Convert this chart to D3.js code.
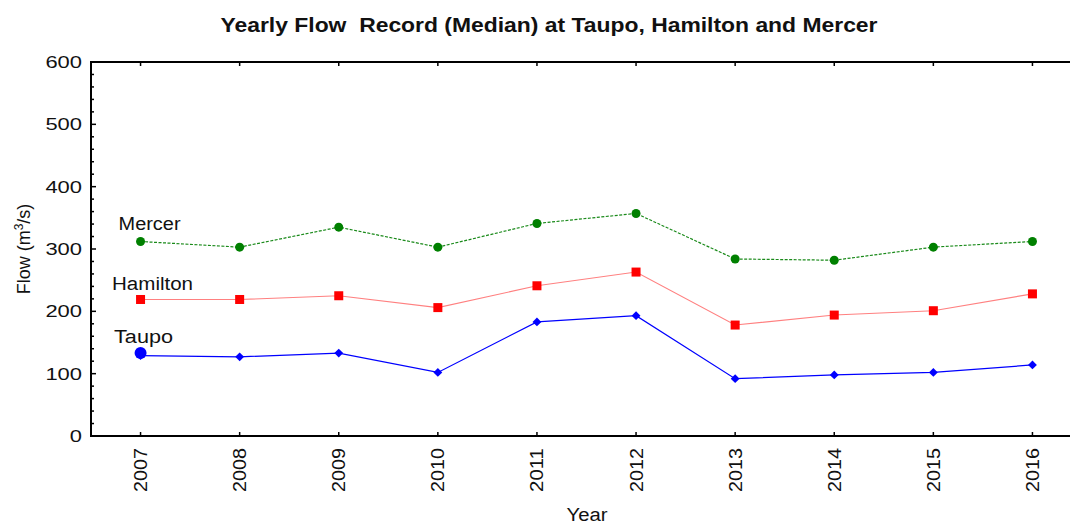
<!DOCTYPE html>
<html>
<head>
<meta charset="utf-8">
<script src="https://cdn.jsdelivr.net/npm/d3@7"></script>
<style>
  body { margin: 0; background: #fff; }
  svg { font-family: "Liberation Sans", Arial, sans-serif; }
  text { white-space: pre; }
</style>
</head>
<body>
<svg id="chart" width="1070" height="525"></svg>
<script>
// data
const years = [2007, 2008, 2009, 2010, 2011, 2012, 2013, 2014, 2015, 2016];
const taupo = [129, 127, 133, 102, 183, 193, 92, 98, 102, 114];
const hamilton = [219, 219, 225, 206, 241, 263, 178, 194, 201, 228];
const mercer = [312, 303, 335, 303, 341, 357, 284, 282, 303, 312];
const yTicks = [0, 100, 200, 300, 400, 500, 600];

const svg = d3.select("#chart");

const x = d3.scaleLinear().domain([2006.5, 2016.5]).range([91, 1082]);
const y = d3.scaleLinear().domain([0, 600]).range([436, 62]);

// frame (right side runs off the picture)
svg.append("line").attr("x1", 91).attr("x2", 1070).attr("y1", 62).attr("y2", 62)
  .attr("stroke", "#000").attr("stroke-width", 2);
svg.append("line").attr("x1", 91).attr("x2", 1070).attr("y1", 436).attr("y2", 436)
  .attr("stroke", "#000").attr("stroke-width", 2);
svg.append("line").attr("x1", 91).attr("x2", 91).attr("y1", 61).attr("y2", 437)
  .attr("stroke", "#000").attr("stroke-width", 2);

// y ticks (major + minor, pointing inward)
const minor = d3.range(0, 601, 20);
svg.append("g").selectAll("line").data(minor).join("line")
  .attr("x1", 91).attr("x2", d => (d % 100 === 0 ? 96 : 94))
  .attr("y1", d => y(d)).attr("y2", d => y(d))
  .attr("stroke", "#000").attr("stroke-width", 1.5);

svg.append("g").selectAll("text").data(yTicks).join("text")
  .attr("x", 82).attr("y", d => y(d) + 6)
  .attr("text-anchor", "end").attr("font-size", 17).attr("fill", "#111")
  .attr("textLength", d => String(d).length * 12.2).attr("lengthAdjust", "spacingAndGlyphs")
  .text(d => d);

// x ticks bottom and top
svg.append("g").selectAll("line").data(years).join("line")
  .attr("x1", d => x(d)).attr("x2", d => x(d))
  .attr("y1", 436).attr("y2", 432).attr("stroke", "#000").attr("stroke-width", 1.5);
svg.append("g").selectAll("line").data(years).join("line")
  .attr("x1", d => x(d)).attr("x2", d => x(d))
  .attr("y1", 62).attr("y2", 66).attr("stroke", "#000").attr("stroke-width", 1.5);

svg.append("g").selectAll("text").data(years).join("text")
  .attr("transform", d => `translate(${x(d) + 6.5},448) rotate(-90)`)
  .attr("text-anchor", "end").attr("font-size", 17.5).attr("fill", "#111")
  .attr("textLength", 44).attr("lengthAdjust", "spacingAndGlyphs")
  .text(d => d);

// titles
svg.append("text").attr("x", 549).attr("y", 32).attr("text-anchor", "middle")
  .attr("font-size", 20).attr("font-weight", "bold").attr("fill", "#111")
  .attr("textLength", 657).attr("lengthAdjust", "spacingAndGlyphs")
  .text("Yearly Flow  Record (Median) at Taupo, Hamilton and Mercer");

svg.append("text").attr("x", 587).attr("y", 521).attr("text-anchor", "middle")
  .attr("font-size", 18).attr("fill", "#111")
  .attr("textLength", 41).attr("lengthAdjust", "spacingAndGlyphs").text("Year");

const yl = svg.append("text")
  .attr("transform", "translate(30,249) rotate(-90)")
  .attr("text-anchor", "middle").attr("font-size", 18).attr("fill", "#111");
yl.append("tspan").text("Flow (m");
yl.append("tspan").attr("dy", -7).attr("font-size", 12).text("3");
yl.append("tspan").attr("dy", 7).text("/s)");

// series
const line = d3.line().x((d, i) => x(years[i])).y(d => y(d));

svg.append("path").datum(mercer).attr("d", line)
  .attr("fill", "none").attr("stroke", "#1a8a1a").attr("stroke-width", 1.2)
  .attr("stroke-dasharray", "3,1.5");
svg.append("path").datum(hamilton).attr("d", line)
  .attr("fill", "none").attr("stroke", "#ff8080").attr("stroke-width", 1.1);
svg.append("path").datum(taupo).attr("d", line)
  .attr("fill", "none").attr("stroke", "#0000ff").attr("stroke-width", 1.2);

svg.append("g").selectAll("circle").data(mercer).join("circle")
  .attr("cx", (d, i) => x(years[i])).attr("cy", d => y(d)).attr("r", 4.5)
  .attr("fill", "#008000");

svg.append("g").selectAll("rect").data(hamilton).join("rect")
  .attr("x", (d, i) => x(years[i]) - 4.5).attr("y", d => y(d) - 4.5)
  .attr("width", 9).attr("height", 9).attr("fill", "#ff0000");

const diamond = d3.symbol().type(d3.symbolDiamond2).size(50);
svg.append("g").selectAll("path").data(taupo).join("path")
  .attr("transform", (d, i) => `translate(${x(years[i])},${y(d)})`)
  .attr("d", diamond).attr("fill", "#0000ff");

// big marker at the Taupo label
svg.append("circle").attr("cx", x(2007)).attr("cy", y(133)).attr("r", 6)
  .attr("fill", "#0000ff");

// series labels, placed above the first point of each line
const labels = [
  { name: "Mercer", v: mercer[0], dx: 9, dy: -11.5, w: 62 },
  { name: "Hamilton", v: hamilton[0], dx: 12, dy: -9.5, w: 81 },
  { name: "Taupo", v: taupo[0], dx: 3, dy: -12.5, w: 59 }
];
svg.append("g").selectAll("text").data(labels).join("text")
  .attr("x", d => x(2007) + d.dx).attr("y", d => y(d.v) + d.dy)
  .attr("text-anchor", "middle").attr("font-size", 18).attr("fill", "#111")
  .attr("textLength", d => d.w).attr("lengthAdjust", "spacingAndGlyphs")
  .text(d => d.name);
</script>
</body>
</html>
